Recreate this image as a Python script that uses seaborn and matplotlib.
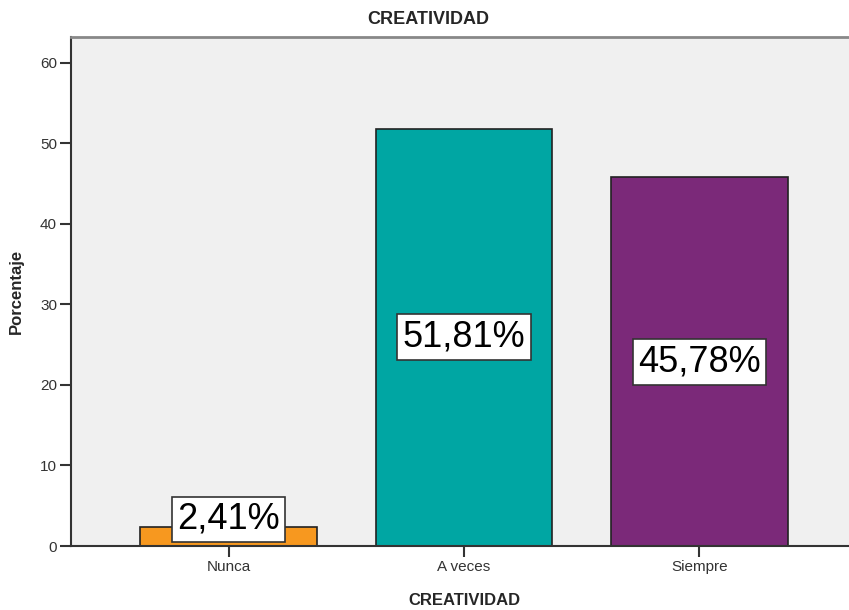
import matplotlib
matplotlib.use("Agg")
import matplotlib.pyplot as plt
import seaborn as sns
import pandas as pd

# datos del grafico
categorias = ["Nunca", "A veces", "Siempre"]
porcentajes = [2.41, 51.81, 45.78]
etiquetas = ["2,41%", "51,81%", "45,78%"]
colores = ["#F7981F", "#00A6A3", "#7B2979"]

df = pd.DataFrame({"CREATIVIDAD": categorias, "Porcentaje": porcentajes})

sns.set_style("white")
plt.rcParams["font.family"] = ["Liberation Sans", "DejaVu Sans"]

fig = plt.figure(figsize=(8.49, 6.10), dpi=100)
# el area del grafico se sale un poco por la derecha, como en el original
ax = fig.add_axes([71 / 849, 1 - 546 / 610, 786 / 849, 509 / 610])
ax.set_facecolor("#F0F0F0")

sns.barplot(data=df, x="CREATIVIDAD", y="Porcentaje", hue="CREATIVIDAD",
            palette=colores, legend=False, width=0.75, edgecolor="#222222",
            linewidth=1.2, saturation=1, ax=ax)

ax.set_xlim(-0.669, 2.669)
ax.set_ylim(0, 63.2)
ax.set_yticks([0, 10, 20, 30, 40, 50, 60])

# etiquetas en cajas blancas
for i, (v, t) in enumerate(zip(porcentajes, etiquetas)):
    y = max(v / 2, 3.3)
    ax.text(i, y, t, ha="center", va="center", fontsize=26, color="black",
            bbox=dict(boxstyle="square,pad=0.15", facecolor="white",
                      edgecolor="#333333", linewidth=1.2))

for s in ["left", "bottom"]:
    ax.spines[s].set_color("#333333")
    ax.spines[s].set_linewidth(1.5)
ax.spines["top"].set_color("#888888")
ax.spines["top"].set_linewidth(2)
ax.spines["right"].set_visible(False)

ax.tick_params(axis="both", direction="out", length=8, width=1.5,
               color="#333333", labelsize=11, labelcolor="#333333",
               left=True, bottom=True, pad=2)
ax.set_xlabel("CREATIVIDAD", fontsize=12, fontweight="bold", labelpad=14)
ax.set_ylabel("Porcentaje", fontsize=12, fontweight="bold", labelpad=12)
fig.text(428 / 849, 1 - 20 / 610, "CREATIVIDAD", ha="center", va="center",
         fontsize=13, fontweight="bold")

fig.savefig("out.png", dpi=100)
